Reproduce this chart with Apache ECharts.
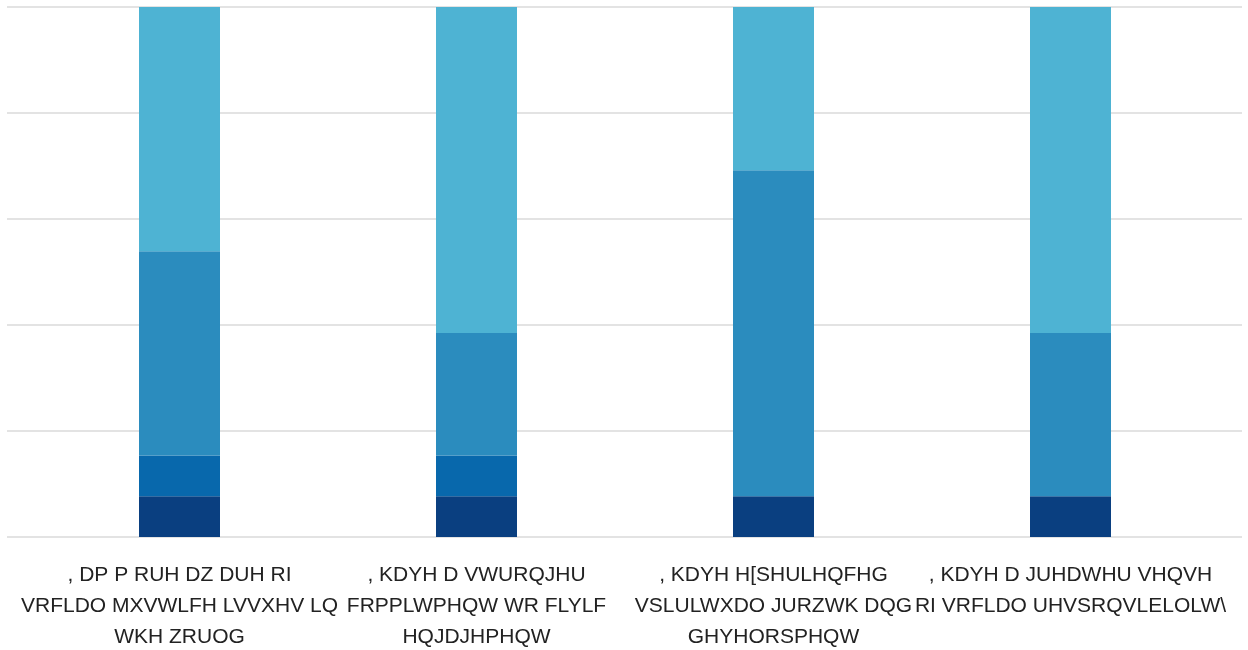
<!DOCTYPE html>
<html>
<head>
<meta charset="utf-8">
<script src="https://cdn.jsdelivr.net/npm/echarts@6/dist/echarts.min.js"></script>
<style>
html,body{margin:0;padding:0;background:#fff;}
#chart{width:1248px;height:650px;}
</style>
</head>
<body>
<div id="chart"></div>
<script>
const categories = [
  ", DP P RUH DZ DUH RI\nVRFLDO MXVWLFH LVVXHV LQ\nWKH ZRUOG",
  ", KDYH D VWURQJHU\nFRPPLWPHQW WR FLYLF\nHQJDJHPHQW",
  ", KDYH H[SHULHQFHG\nVSLULWXDO JURZWK DQG\nGHYHORSPHQW",
  ", KDYH D JUHDWHU VHQVH\nRI VRFLDO UHVSRQVLELOLW\\"
];
const seriesA = [7.7, 7.7, 7.7, 7.7];
const seriesB = [7.7, 7.7, 0, 0];
const seriesC = [38.5, 23.1, 61.5, 30.8];
const seriesD = [46.1, 61.5, 30.8, 61.5];
const colors = ['#0a3f80', '#0868ac', '#2b8cbe', '#4eb3d3'];

const chart = echarts.init(document.getElementById('chart'));
const labelFont = "'Liberation Sans', Arial, sans-serif";
function mk(name, data, i) {
  return {
    name: name, type: 'bar', stack: 'total', xAxisIndex: 1, yAxisIndex: 1,
    barWidth: 81, data: data, itemStyle: { color: colors[i] }, silent: true
  };
}
chart.setOption({
  animation: false,
  grid: [
    { left: 7, right: 6, top: 7, bottom: 113, outerBoundsMode: 'none', containLabel: false },
    { left: 31, right: 29, top: 7, bottom: 113, outerBoundsMode: 'none', containLabel: false }
  ],
  xAxis: [
    { gridIndex: 0, type: 'value', min: 0, max: 1, show: false },
    {
      gridIndex: 1, type: 'category', data: categories,
      axisLine: { show: false }, axisTick: { show: false },
      axisLabel: {
        interval: 0, margin: 23, color: '#222222', fontSize: 21,
        lineHeight: 31, fontFamily: labelFont, align: 'center'
      }
    }
  ],
  yAxis: [
    {
      gridIndex: 0, type: 'value', min: 0, max: 100, interval: 20,
      axisLabel: { show: false }, axisLine: { show: false }, axisTick: { show: false },
      splitLine: { show: true, lineStyle: { color: '#e3e3e3', width: 2 } }
    },
    {
      gridIndex: 1, type: 'value', min: 0, max: 100, interval: 20,
      axisLabel: { show: false }, axisLine: { show: false }, axisTick: { show: false },
      splitLine: { show: false }
    }
  ],
  series: [
    mk('A', seriesA, 0),
    mk('B', seriesB, 1),
    mk('C', seriesC, 2),
    mk('D', seriesD, 3)
  ]
});
</script>
</body>
</html>
